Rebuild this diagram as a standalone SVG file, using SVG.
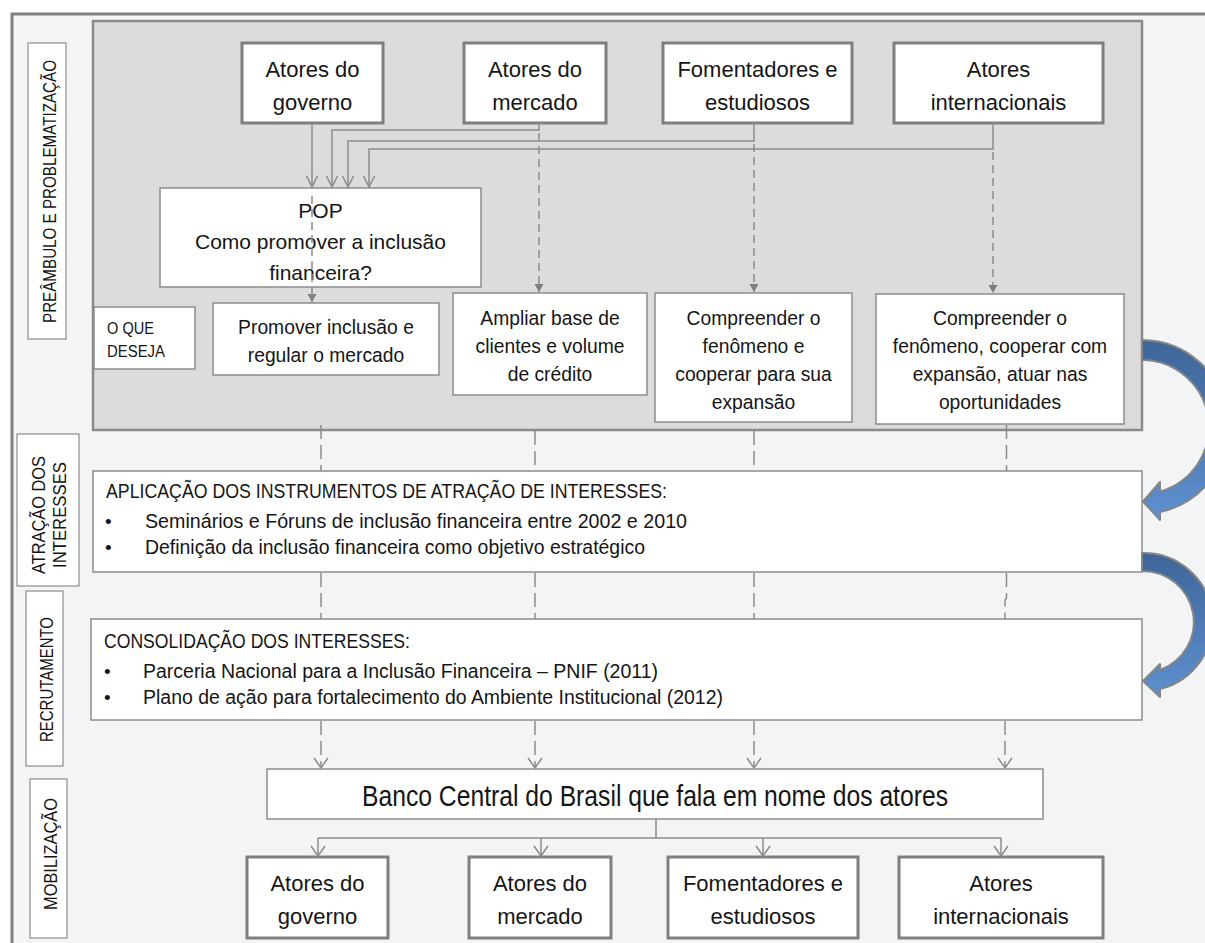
<svg xmlns="http://www.w3.org/2000/svg" width="1205" height="943" viewBox="0 0 1205 943">
<defs>
<style>
.t{font-family:"Liberation Sans",Arial,sans-serif;fill:#151515}
.c{text-anchor:middle}
.f22{font-size:22px}
.f19{font-size:19.3px}
.f21{font-size:21px}
.bt{fill:#fff;stroke:#7f7f7f;stroke-width:3}
.bx{fill:#fff;stroke:#8c8c8c;stroke-width:1.5}
.ln{fill:none;stroke:#8c8c8c;stroke-width:1.5}
.ds{stroke-dasharray:8 5}
.dm{stroke-dasharray:14 6}
.blue{stroke:#858585;stroke-width:2;stroke-linejoin:round}
</style>
<marker id="v" markerUnits="userSpaceOnUse" orient="auto" refX="0" refY="0" overflow="visible">
<path d="M-11,-5.5 L0,0 L-11,5.5" fill="none" stroke="#8c8c8c" stroke-width="1.5"/>
</marker>
<marker id="v2" markerUnits="userSpaceOnUse" orient="auto" refX="0" refY="0" overflow="visible">
<path d="M-10,-7 L0,0 L-10,7" fill="none" stroke="#8c8c8c" stroke-width="1.5"/>
</marker>
<marker id="tri" markerUnits="userSpaceOnUse" orient="auto" refX="0" refY="0" overflow="visible">
<path d="M-8,-4.5 L0,0 L-8,4.5 Z" fill="#7f7f7f"/>
</marker>
<linearGradient id="g1" x1="0" y1="0" x2="0" y2="1">
<stop offset="0" stop-color="#3e6598"/>
<stop offset="1" stop-color="#5e90d0"/>
</linearGradient>
</defs>

<!-- background frame -->
<rect x="0" y="0" width="1205" height="943" fill="#ffffff"/>
<rect x="12" y="14" width="1193" height="929" fill="#f3f4f6"/>
<path d="M12,943 L12,14 L1205,14" fill="none" stroke="#808080" stroke-width="3"/>

<!-- gray panel -->
<rect id="panel" x="93" y="21" width="1049" height="409" fill="#dcdcdc" stroke="#8a8a8a" stroke-width="2.5"/>

<!-- phase labels -->
<g id="label-preambulo">
<rect x="28" y="43" width="38" height="296" fill="#fff" stroke="#8c8c8c" stroke-width="1.2"/>
<text class="t" font-size="18" text-anchor="middle" textLength="263" lengthAdjust="spacingAndGlyphs" transform="translate(56,191.5) rotate(-90)">PREÂMBULO E PROBLEMATIZAÇÃO</text>
</g>
<g id="label-atracao">
<rect x="17" y="434" width="62" height="152" fill="#fff" stroke="#8c8c8c" stroke-width="1.2"/>
<text class="t" font-size="19" text-anchor="middle" textLength="118" lengthAdjust="spacingAndGlyphs" transform="translate(44.5,515) rotate(-90)">ATRAÇÃO DOS</text>
<text class="t" font-size="19" text-anchor="middle" textLength="106" lengthAdjust="spacingAndGlyphs" transform="translate(66,515) rotate(-90)">INTERESSES</text>
</g>
<g id="label-recrutamento">
<rect x="26" y="591" width="37" height="175" fill="#fff" stroke="#8c8c8c" stroke-width="1.2"/>
<text class="t" font-size="19" text-anchor="middle" textLength="125" lengthAdjust="spacingAndGlyphs" transform="translate(53,679.5) rotate(-90)">RECRUTAMENTO</text>
</g>
<g id="label-mobilizacao">
<rect x="30" y="779" width="37" height="159" fill="#fff" stroke="#8c8c8c" stroke-width="1.2"/>
<text class="t" font-size="19" text-anchor="middle" textLength="112" lengthAdjust="spacingAndGlyphs" transform="translate(57,854) rotate(-90)">MOBILIZAÇÃO</text>
</g>

<!-- top actors -->
<g id="top-governo">
<rect class="bt" x="242" y="43" width="141" height="80"/>
<text class="t c f22" x="312.5" y="77">Atores do</text>
<text class="t c f22" x="312.5" y="110">governo</text>
</g>
<g id="top-mercado">
<rect class="bt" x="464" y="43" width="142" height="80"/>
<text class="t c f22" x="535" y="77">Atores do</text>
<text class="t c f22" x="535" y="110">mercado</text>
</g>
<g id="top-fomentadores">
<rect class="bt" x="663" y="43" width="189" height="80"/>
<text class="t c f22" x="757.5" y="77">Fomentadores e</text>
<text class="t c f22" x="757.5" y="110">estudiosos</text>
</g>
<g id="top-internacionais">
<rect class="bt" x="894" y="43" width="209" height="80"/>
<text class="t c f22" x="998.5" y="77">Atores</text>
<text class="t c f22" x="998.5" y="110">internacionais</text>
</g>

<!-- POP -->
<g id="pop">
<rect class="bx" x="160" y="188" width="321" height="99"/>
<text class="t c f21" x="320.5" y="218">POP</text>
<text class="t c f21" x="320.5" y="249">Como promover a inclusão</text>
<text class="t c f21" x="320.5" y="280">financeira?</text>
</g>

<!-- what each wants -->
<g id="o-que-deseja">
<rect class="bx" x="94" y="307" width="101" height="62"/>
<text class="t" font-size="16" x="107" y="334" textLength="47" lengthAdjust="spacingAndGlyphs">O QUE</text>
<text class="t" font-size="16" x="107" y="357" textLength="58" lengthAdjust="spacingAndGlyphs">DESEJA</text>
</g>
<g id="deseja-governo">
<rect class="bx" x="213" y="303" width="226" height="72"/>
<text class="t c f19" x="326" y="334">Promover inclusão e</text>
<text class="t c f19" x="326" y="362">regular o mercado</text>
</g>
<g id="deseja-mercado">
<rect class="bx" x="453" y="293" width="194" height="102"/>
<text class="t c f19" x="550" y="325">Ampliar base de</text>
<text class="t c f19" x="550" y="353">clientes e volume</text>
<text class="t c f19" x="550" y="381">de crédito</text>
</g>
<g id="deseja-fomentadores">
<rect class="bx" x="655" y="293" width="197" height="129"/>
<text class="t c f19" x="753.5" y="325">Compreender o</text>
<text class="t c f19" x="753.5" y="353">fenômeno e</text>
<text class="t c f19" x="753.5" y="381">cooperar para sua</text>
<text class="t c f19" x="753.5" y="409">expansão</text>
</g>
<g id="deseja-internacionais">
<rect class="bx" x="876" y="294" width="248" height="130"/>
<text class="t c f19" x="1000" y="325">Compreender o</text>
<text class="t c f19" x="1000" y="353">fenômeno, cooperar com</text>
<text class="t c f19" x="1000" y="381">expansão, atuar nas</text>
<text class="t c f19" x="1000" y="409">oportunidades</text>
</g>

<!-- attraction -->
<g id="atracao">
<rect class="bx" x="93" y="471" width="1049" height="101"/>
<text class="t" font-size="21" x="106" y="498" textLength="561" lengthAdjust="spacingAndGlyphs">APLICAÇÃO DOS INSTRUMENTOS DE ATRAÇÃO DE INTERESSES:</text>
<text class="t" font-size="19" x="105" y="528">•</text>
<text class="t" font-size="19.5" x="145" y="528" textLength="542" lengthAdjust="spacingAndGlyphs">Seminários e Fóruns de inclusão financeira entre 2002 e 2010</text>
<text class="t" font-size="19" x="105" y="554">•</text>
<text class="t" font-size="19.5" x="145" y="554" textLength="500" lengthAdjust="spacingAndGlyphs">Definição da inclusão financeira como objetivo estratégico</text>
</g>

<!-- consolidation -->
<g id="consolidacao">
<rect class="bx" x="91" y="619" width="1051" height="101"/>
<text class="t" font-size="21" x="104" y="648" textLength="306" lengthAdjust="spacingAndGlyphs">CONSOLIDAÇÃO DOS INTERESSES:</text>
<text class="t" font-size="19" x="104" y="678">•</text>
<text class="t" font-size="19.5" x="143" y="678" textLength="515" lengthAdjust="spacingAndGlyphs">Parceria  Nacional para a Inclusão Financeira – PNIF (2011)</text>
<text class="t" font-size="19" x="104" y="704">•</text>
<text class="t" font-size="19.5" x="143" y="704" textLength="580" lengthAdjust="spacingAndGlyphs">Plano de ação para fortalecimento do Ambiente Institucional (2012)</text>
</g>

<!-- Banco Central -->
<g id="banco-central">
<rect class="bx" x="267" y="769" width="776" height="50"/>
<text class="t" font-size="30" x="362" y="806" textLength="586" lengthAdjust="spacingAndGlyphs">Banco Central do Brasil que fala em nome dos atores</text>
</g>

<!-- bottom actors -->
<g id="bottom-governo">
<rect class="bt" x="247" y="857" width="141" height="81"/>
<text class="t c f22" x="317.5" y="891">Atores do</text>
<text class="t c f22" x="317.5" y="924">governo</text>
</g>
<g id="bottom-mercado">
<rect class="bt" x="469" y="857" width="142" height="81"/>
<text class="t c f22" x="540" y="891">Atores do</text>
<text class="t c f22" x="540" y="924">mercado</text>
</g>
<g id="bottom-fomentadores">
<rect class="bt" x="668" y="857" width="190" height="81"/>
<text class="t c f22" x="763" y="891">Fomentadores e</text>
<text class="t c f22" x="763" y="924">estudiosos</text>
</g>
<g id="bottom-internacionais">
<rect class="bt" x="899" y="857" width="204" height="81"/>
<text class="t c f22" x="1001" y="891">Atores</text>
<text class="t c f22" x="1001" y="924">internacionais</text>
</g>

<!-- connectors -->
<g id="connectors">
<!-- solid to POP -->
<path class="ln" d="M312,123 L312,187" marker-end="url(#v)"/>
<path class="ln" d="M539,123 L539,130 L332,130 L332,187" marker-end="url(#v)"/>
<path class="ln" d="M754,123 L754,141 L348,141 L348,187" marker-end="url(#v)"/>
<path class="ln" d="M993,123 L993,149 L369,149 L369,187" marker-end="url(#v)"/>
<!-- dashed to wishes -->
<path class="ln ds" d="M312,196 L312,302" marker-end="url(#tri)"/>
<path class="ln ds" d="M539,133 L539,292" marker-end="url(#tri)"/>
<path class="ln ds" d="M754,144 L754,292" marker-end="url(#tri)"/>
<path class="ln ds" d="M993,152 L993,293" marker-end="url(#tri)"/>
<!-- dashed panel to attraction -->
<path class="ln dm" d="M321,425 L321,471"/>
<path class="ln dm" d="M535,431 L535,471"/>
<path class="ln dm" d="M754,431 L754,471"/>
<path class="ln dm" d="M1006.5,425 L1006.5,471"/>
<!-- attraction to consolidation -->
<path class="ln dm" d="M321,573 L321,619"/>
<path class="ln dm" d="M535,573 L535,619"/>
<path class="ln dm" d="M754,573 L754,619"/>
<path class="ln dm" d="M1006.5,573 L1006.5,598 L1005,600 L1005,619"/>
<!-- consolidation to Banco -->
<path class="ln dm" d="M321,721 L321,768" marker-end="url(#v2)"/>
<path class="ln dm" d="M535,721 L535,768" marker-end="url(#v2)"/>
<path class="ln dm" d="M754,721 L754,768" marker-end="url(#v2)"/>
<path class="ln dm" d="M1005,721 L1005,768" marker-end="url(#v2)"/>
<!-- Banco to bottom actors -->
<path class="ln" d="M656,819 L656,838"/>
<path class="ln" d="M318,838 L1001,838"/>
<path class="ln" d="M318,838 L318,856" marker-end="url(#v2)"/>
<path class="ln" d="M541,838 L541,856" marker-end="url(#v2)"/>
<path class="ln" d="M763,838 L763,856" marker-end="url(#v2)"/>
<path class="ln" d="M1001,838 L1001,856" marker-end="url(#v2)"/>
<!-- blue curved arrows -->
<path class="blue" fill="url(#g1)" d="M1142,340 A87,87 0 0 1 1160,512 L1160,520 L1143,501.5 L1160,482 L1160,491.5 A67,67 0 0 0 1142,360 Z"/>
<path class="blue" fill="url(#g1)" d="M1142,553 A69,69 0 0 1 1160,689 L1160,697 L1143,681 L1160,664 L1160,670 A51,51 0 0 0 1142,571 Z"/>
</g>
</svg>
